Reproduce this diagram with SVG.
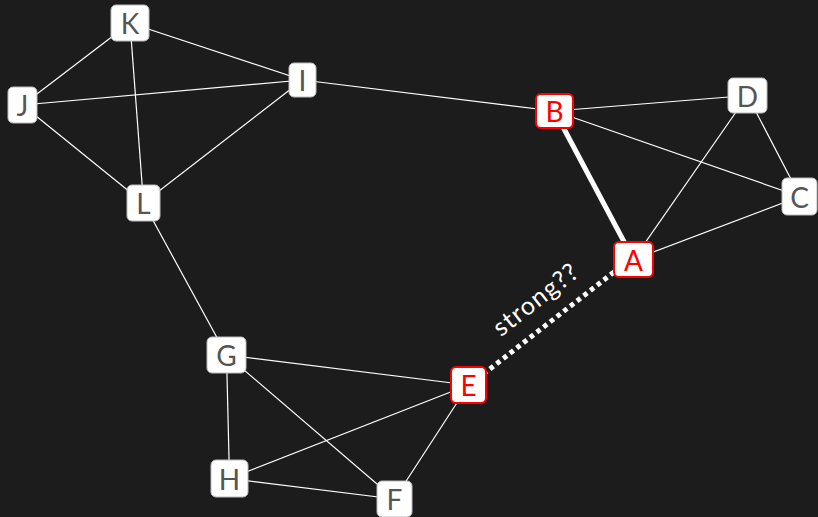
<svg xmlns="http://www.w3.org/2000/svg" width="818" height="517" viewBox="0 0 818 517">
<style>
.e{stroke:#ffffff;stroke-width:1.2;fill:none}
.n rect{fill:#ffffff;stroke:#bbbbbb;stroke-width:1}
.n text{font-family:Lato,"Open Sans",sans-serif;font-size:28px;fill:#555555;text-anchor:middle;dominant-baseline:central}
.r rect{stroke:#ff0000;stroke-width:2}
.r text{fill:#ff0000}
.lbl{font-family:Lato,"Open Sans",sans-serif;font-size:25px;letter-spacing:1.2px;fill:#ffffff;text-anchor:middle}
</style>
<rect width="818" height="517" fill="#1c1c1c"/>
<g id="connectors">
<line class="e" x1="130" y1="23" x2="302.5" y2="80"/>
<line class="e" x1="130" y1="23" x2="22.5" y2="105"/>
<line class="e" x1="130" y1="23" x2="143.5" y2="203"/>
<line class="e" x1="22.5" y1="105" x2="302.5" y2="80"/>
<line class="e" x1="22.5" y1="105" x2="143.5" y2="203"/>
<line class="e" x1="302.5" y1="80" x2="143.5" y2="203"/>
<line class="e" x1="302.5" y1="80" x2="554.5" y2="111"/>
<line class="e" x1="143.5" y1="203" x2="226.5" y2="355"/>
<line class="e" x1="554.5" y1="111" x2="747.5" y2="95.5"/>
<line class="e" x1="554.5" y1="111" x2="800" y2="196.5"/>
<line x1="554.5" y1="111" x2="633.5" y2="259.5" stroke="#ffffff" stroke-width="5"/>
<line class="e" x1="747.5" y1="95.5" x2="800" y2="196.5"/>
<line class="e" x1="747.5" y1="95.5" x2="633.5" y2="259.5"/>
<line class="e" x1="800" y1="196.5" x2="633.5" y2="259.5"/>
<line x1="614" y1="272" x2="486" y2="372" stroke="#ffffff" stroke-width="5" stroke-dasharray="4.5 4"/>
<line class="e" x1="226.5" y1="355" x2="468.5" y2="385"/>
<line class="e" x1="226.5" y1="355" x2="229.5" y2="478.5"/>
<line class="e" x1="226.5" y1="355" x2="394.5" y2="499"/>
<line class="e" x1="229.5" y1="478.5" x2="468.5" y2="385"/>
<line class="e" x1="229.5" y1="478.5" x2="394.5" y2="499"/>
<line class="e" x1="468.5" y1="385" x2="394.5" y2="499"/>
<text class="lbl" transform="translate(541,306) rotate(-38)">strong??</text>
</g>
<g id="K" class="n"><rect x="111" y="5" width="38" height="36" rx="5"/><text x="130" y="23">K</text></g>
<g id="I" class="n"><rect x="289" y="63" width="27" height="34" rx="5"/><text x="302.5" y="80">I</text></g>
<g id="J" class="n"><rect x="8" y="87" width="29" height="36" rx="5"/><text x="22.5" y="105">J</text></g>
<g id="L" class="n"><rect x="127" y="185" width="33" height="36" rx="5"/><text x="143.5" y="203">L</text></g>
<g id="B" class="n r"><rect x="536" y="94" width="37" height="34" rx="5"/><text x="554.5" y="111">B</text></g>
<g id="D" class="n"><rect x="728" y="78" width="39" height="35" rx="5"/><text x="747.5" y="95.5">D</text></g>
<g id="C" class="n"><rect x="782" y="178" width="35" height="37" rx="5"/><text x="799.5" y="196.5">C</text></g>
<g id="A" class="n r"><rect x="614" y="242" width="39" height="35" rx="5"/><text x="633.5" y="259.5">A</text></g>
<g id="G" class="n"><rect x="207" y="337" width="39" height="36" rx="5"/><text x="226.5" y="355">G</text></g>
<g id="E" class="n r"><rect x="451" y="367" width="35" height="36" rx="5"/><text x="468.5" y="385">E</text></g>
<g id="H" class="n"><rect x="211" y="460" width="37" height="37" rx="5"/><text x="229.5" y="478.5">H</text></g>
<g id="F" class="n"><rect x="377" y="481" width="35" height="36" rx="5"/><text x="394.5" y="499">F</text></g>
</svg>
